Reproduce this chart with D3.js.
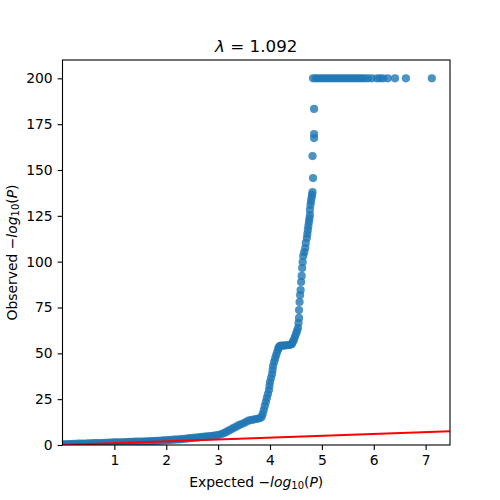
<!DOCTYPE html>
<html>
<head>
<meta charset="utf-8">
<script src="https://cdn.jsdelivr.net/npm/d3@7"></script>
<style>
  body { margin: 0; background: #fff; }
  svg text { font-family: "DejaVu Sans", sans-serif; fill: #000; }
</style>
</head>
<body>
<div id="chart"></div>
<script>
// Expected -log10(P) / observed -log10(P)
var expected = [
    0.00, 0.05, 0.10, 0.15, 0.20, 0.25, 0.30, 0.35, 0.40, 0.45, 0.50, 0.55, 0.60, 0.65, 0.70, 0.75,
    0.80, 0.85, 0.90, 0.95, 1.00, 1.05, 1.10, 1.15, 1.20, 1.25, 1.30, 1.35, 1.40, 1.45, 1.50, 1.55,
    1.60, 1.65, 1.70, 1.75, 1.80, 1.85, 1.90, 1.95, 2.00, 2.05, 2.10, 2.15, 2.20, 2.25, 2.30, 2.35,
    2.40, 2.45, 2.50, 2.55, 2.60, 2.65, 2.70, 2.75, 2.80, 2.85, 2.90, 2.95, 3.00, 3.05, 3.10, 3.15,
    3.20, 3.25, 3.30, 3.35, 3.40, 3.45, 3.50, 3.55, 3.60, 3.65, 3.70, 3.75, 3.80, 3.84, 3.86, 3.88,
    3.90, 3.92, 3.94, 3.96, 3.98, 3.99, 4.00, 4.02, 4.04, 4.05, 4.06, 4.08, 4.10, 4.12, 4.14, 4.16,
    4.17, 4.19, 4.21, 4.25, 4.29, 4.33, 4.37, 4.40, 4.42, 4.44, 4.46, 4.48, 4.50, 4.52, 4.54, 4.55,
    4.56, 4.56, 4.57, 4.58, 4.59, 4.60, 4.61, 4.62, 4.63, 4.64, 4.66, 4.68, 4.69, 4.71, 4.72, 4.73,
    4.74, 4.75, 4.76, 4.77, 4.77, 4.78, 4.79, 4.80, 4.81, 4.82, 4.83, 4.82, 4.85, 4.85, 4.85
];
var observed = [
    0.3, 0.4, 0.5, 0.5, 0.6, 0.6, 0.7, 0.7, 0.8, 0.8, 0.9, 0.9, 1.0, 1.0, 1.1, 1.1,
    1.2, 1.2, 1.3, 1.3, 1.4, 1.4, 1.5, 1.5, 1.6, 1.6, 1.7, 1.7, 1.8, 1.8, 1.9, 1.9,
    2.0, 2.0, 2.1, 2.1, 2.2, 2.3, 2.4, 2.5, 2.6, 2.7, 2.8, 2.9, 3.0, 3.1, 3.2, 3.4,
    3.5, 3.7, 3.8, 4.0, 4.1, 4.3, 4.4, 4.6, 4.7, 4.9, 5.0, 5.2, 5.4, 5.8, 6.3, 7.0,
    7.8, 8.5, 9.3, 10.0, 10.8, 11.4, 12.0, 12.8, 13.4, 13.7, 14.0, 14.2, 14.6, 15.3, 17.0, 19.1,
    21.3, 23.5, 25.7, 27.8, 30.0, 32.2, 34.3, 36.5, 38.7, 40.9, 43.1, 45.3, 47.2, 49.1, 50.8, 52.4,
    53.3, 54.0, 54.2, 54.2, 54.3, 54.4, 54.5, 54.8, 55.1, 56.2, 57.3, 58.9, 60.5, 62.1, 63.8, 66.5,
    69.3, 73.6, 78.0, 81.8, 84.5, 88.9, 92.2, 96.5, 99.8, 103.1, 105.2, 107.4, 110.2, 112.9, 115.1, 117.3,
    119.5, 121.6, 123.5, 125.4, 128.2, 130.9, 132.8, 134.7, 136.4, 138.0, 145.6, 157.6, 167.4, 169.6, 183.3
];
// points capped at 200
var capExpected = [
    4.83, 4.88, 4.93, 4.98, 5.03, 5.08, 5.13, 5.18, 5.23, 5.28, 5.33, 5.38, 5.43, 5.48, 5.53, 5.58,
    5.63, 5.68, 5.73, 5.78, 5.83, 5.89, 5.96, 6.06, 6.12, 6.18, 6.27, 6.41, 6.62, 7.12
];
var capValue = 200;

var lambda = '1.092';
var xTicks = [1, 2, 3, 4, 5, 6, 7];
var yTicks = [0, 25, 50, 75, 100, 125, 150, 175, 200];
var xMax = 7.47, yMax = 210;

var width = 500, height = 500;
var plotLeft = 62.5, plotRight = 450, plotTop = 60, plotBottom = 445;

var svg = d3.select('#chart').append('svg')
    .attr('width', width).attr('height', height);

var x = d3.scaleLinear().domain([0, xMax]).range([plotLeft, plotRight]);
var y = d3.scaleLinear().domain([0, yMax]).range([plotBottom, plotTop]);

svg.append('clipPath').attr('id', 'plot-clip')
    .append('rect')
    .attr('x', plotLeft).attr('y', plotTop)
    .attr('width', plotRight - plotLeft).attr('height', plotBottom - plotTop);

var plot = svg.append('g').attr('clip-path', 'url(#plot-clip)');

var points = expected.map(function(e, i) { return [e, observed[i]]; })
    .concat(capExpected.map(function(e) { return [e, capValue]; }));

plot.selectAll('circle.pt')
    .data(points)
    .enter().append('circle')
    .attr('class', 'pt')
    .attr('cx', function(d) { return x(d[0]); })
    .attr('cy', function(d) { return y(d[1]); })
    .attr('r', 4.1)
    .attr('fill', '#1f77b4')
    .attr('fill-opacity', 0.8);

// y = x reference line
plot.append('line')
    .attr('x1', x(0)).attr('y1', y(0))
    .attr('x2', x(xMax)).attr('y2', y(xMax))
    .attr('stroke', '#ff0000')
    .attr('stroke-width', 2);

// Axes
var xAxis = svg.append('g')
    .attr('transform', 'translate(0,' + plotBottom + ')')
    .call(d3.axisBottom(x).tickValues(xTicks).tickSize(4.9).tickPadding(4.9).tickFormat(d3.format('d')));
var yAxis = svg.append('g')
    .attr('transform', 'translate(' + plotLeft + ',0)')
    .call(d3.axisLeft(y).tickValues(yTicks).tickSize(4.9).tickPadding(4.9).tickFormat(d3.format('d')));

[xAxis, yAxis].forEach(function(a) {
    a.select('.domain').remove();
    a.selectAll('.tick line').attr('stroke', '#000').attr('stroke-width', 1.1);
    a.selectAll('.tick text')
        .style('font-family', '"DejaVu Sans", sans-serif')
        .style('font-size', '13.9px');
});

// Frame
svg.append('rect')
    .attr('x', plotLeft).attr('y', plotTop)
    .attr('width', plotRight - plotLeft).attr('height', plotBottom - plotTop)
    .attr('fill', 'none')
    .attr('stroke', '#000')
    .attr('stroke-width', 1.1);

// Title
var title = svg.append('text')
    .attr('x', (plotLeft + plotRight) / 2).attr('y', 52)
    .attr('text-anchor', 'middle')
    .style('font-size', '16.7px');
title.append('tspan').style('font-style', 'italic').text('λ');
title.append('tspan').text(' = ' + lambda);

// Axis labels
function logLabel(sel, prefix) {
    sel.append('tspan').text(prefix + ' \u2212');
    sel.append('tspan').style('font-style', 'italic').text('log');
    sel.append('tspan').attr('baseline-shift', '-22%').style('font-size', '10px').text('10');
    sel.append('tspan').text('(');
    sel.append('tspan').style('font-style', 'italic').text('P');
    sel.append('tspan').text(')');
}

var xLabel = svg.append('text')
    .attr('x', (plotLeft + plotRight) / 2).attr('y', 487)
    .attr('text-anchor', 'middle')
    .style('font-size', '13.9px');
logLabel(xLabel, 'Expected');

var yLabel = svg.append('text')
    .attr('transform', 'translate(17,' + (plotTop + plotBottom) / 2 + ') rotate(-90)')
    .attr('text-anchor', 'middle')
    .style('font-size', '13.9px');
logLabel(yLabel, 'Observed');
</script>
</body>
</html>
